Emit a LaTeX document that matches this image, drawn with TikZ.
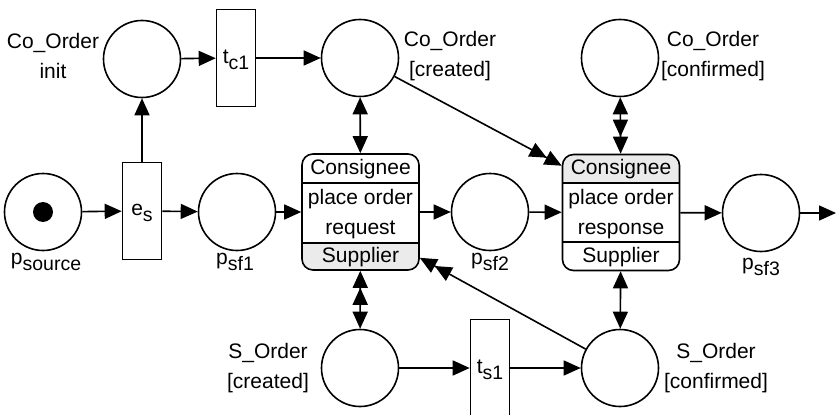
\documentclass[tikz,border=0pt]{standalone}
\usepackage{fontspec}
\setmainfont{Liberation Sans}
\usetikzlibrary{arrows.meta}
\definecolor{bandgray}{HTML}{EBEBEB}
% lowered index written at almost full size
\newcommand\lowsub[1]{\raisebox{-0.28em}{\fontsize{19.5}{19.5}\selectfont #1}}
\begin{document}
\begin{tikzpicture}[x=1pt,y=-1pt,
  every node/.style={font=\fontsize{21}{29.5}\selectfont},
  place/.style={circle,draw,line width=1.6pt,minimum size=77pt,inner sep=0pt},
  trans/.style={rectangle,draw,line width=1.6pt,minimum width=39pt,minimum height=97pt,inner sep=0pt},
  taskbox/.style={rectangle,draw,line width=1.6pt,rounded corners=11pt,minimum width=117pt,minimum height=116pt,inner sep=0pt},
  lbl/.style={align=center,inner sep=0pt},
  tip/.tip={Triangle[length=17pt,width=15pt]},
  arc/.style={line width=1.6pt,-tip},
  biarc/.style={line width=1.6pt,tip-tip},
  divider/.style={line width=1.2pt}
]
\useasboundingbox (0,0) rectangle (836,415);

% ---- choreography task bands ----
\begin{scope}
  \clip[rounded corners=11pt] (302,154) rectangle (419,270);
  \fill[bandgray] (302,243) rectangle (419,270);
\end{scope}
\begin{scope}
  \clip[rounded corners=11pt] (562,155) rectangle (680,270);
  \fill[bandgray] (562,155) rectangle (680,183);
\end{scope}
\draw[divider] (302,183) -- (419,183) (302,243) -- (419,243);
\draw[divider] (562,183) -- (680,183) (562,242) -- (680,242);

% ---- places ----
\node[place] (coi)  at (142,59)  {};
\node[place] (coc)  at (360,58)  {};
\node[place] (cof)  at (620,58)  {};
\node[place] (psrc) at (43,212)  {};
\node[place] (psf1) at (237,212) {};
\node[place] (psf2) at (490,212) {};
\node[place] (psf3) at (761,213) {};
\node[place] (soc)  at (360,368) {};
\node[place] (sof)  at (620,368) {};
\fill (psrc) circle (10pt);

% ---- transitions ----
\node[trans] (tc1) at (236,58)  {};
\node[trans] (es)  at (142,211) {};
\node[trans] (ts1) at (490,368) {};
\node at (236,60) {t\lowsub{c1}};
\node at (142,213) {e\lowsub{s}};
\node at (490,370) {t\lowsub{s1}};

% ---- choreography tasks ----
\node[taskbox] (t1) at (360.5,212) {};
\node[taskbox] (t2) at (621,212.5) {};
\node at (360.5,169) {Consignee};
\node[lbl] at (360.5,214) {place order\\request};
\node at (360.5,257) {Supplier};
\node at (621,169) {Consignee};
\node[lbl] at (621,214) {place order\\response};
\node at (621,257) {Supplier};

% ---- labels ----
\node[lbl] at (53,56)   {Co\_Order\\init};
\node[lbl] at (450,56)  {Co\_Order\\{}[created]};
\node[lbl] at (713,56)  {Co\_Order\\{}[confirmed]};
\node[lbl] at (268,368) {S\_Order\\{}[created]};
\node[lbl] at (716,368) {S\_Order\\{}[confirmed]};
\node at (46,262)  {p\lowsub{source}};
\node at (235,262) {p\lowsub{sf1}};
\node at (490,262) {p\lowsub{sf2}};
\node at (761,267) {p\lowsub{sf3}};

\coordinate (out) at (836,213);

% ---- flow ----
\draw[arc] (psrc) -- (es);
\draw[arc] (es) -- (psf1);
\draw[arc] (es) -- (coi);
\draw[arc] (coi) -- (tc1);
\draw[arc] (tc1) -- (coc);
\draw[arc] (psf1) -- (t1);
\draw[arc] (t1) -- (psf2);
\draw[arc] (psf2) -- (t2);
\draw[arc] (t2) -- (psf3);
\draw[arc] (psf3) -- (out);
\draw[arc] (soc) -- (ts1);
\draw[arc] (ts1) -- (sof);

% ---- data links ----
\draw[biarc] (coc) -- (t1);
\draw[line width=1.6pt,tip-{tip[]tip[]}] (cof) -- (t2);
\draw[line width=1.6pt,tip-{tip[]tip[]}] (soc) -- (t1);
\draw[biarc] (sof) -- (t2);
\draw[line width=1.6pt,-{tip[]tip[]}] (coc) -- ([yshift=-12pt]t2.north west);
\draw[line width=1.6pt,-{tip[]tip[]}] (sof) -- ([yshift=13pt]t1.south east);
\end{tikzpicture}
\end{document}
